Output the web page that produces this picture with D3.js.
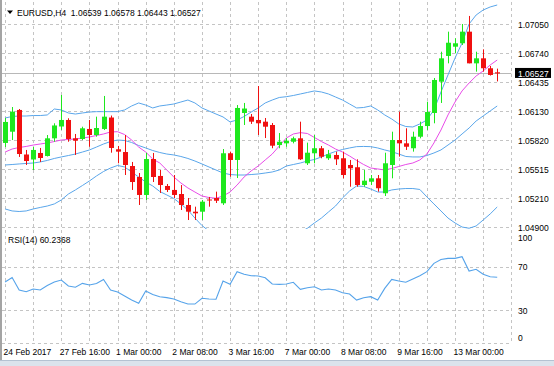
<!DOCTYPE html>
<html>
<head>
<meta charset="utf-8">
<script src="https://cdn.jsdelivr.net/npm/d3@7"></script>
<style>
body { margin: 0; background: #fff; }
text { font-family: "Liberation Sans", Arial, sans-serif; font-size: 8.5px; fill: #000; }
</style>
</head>
<body>
<svg id="chart" width="554" height="366"></svg>
<script>
// EURUSD H4, one value per bar, oldest first
const opens = [1.05792,1.05911,1.06141,1.05670,1.05617,1.05686,1.05654,1.05841,1.05966,1.06035,
  1.05841,1.05834,1.05940,1.05876,1.05940,1.06061,1.05725,1.05696,1.05548,1.05432,
  1.05242,1.05622,1.05443,1.05337,1.05295,1.05252,1.05136,1.05065,1.05065,1.05194,
  1.05210,1.05154,1.05683,1.05612,1.06109,1.06070,1.06035,1.06017,1.05982,1.05770,
  1.05788,1.05805,1.05841,1.05577,1.05683,1.05736,1.05630,1.05665,1.05630,1.05559,
  1.05535,1.05347,1.05382,1.05418,1.05260,1.05559,1.05823,1.05788,1.05736,1.05858,
  1.05971,1.06109,1.06440,1.06712,1.06810,1.06846,1.06969,1.06634,1.06687,1.06582,
  1.06539];
const highs = [1.06056,1.06172,1.06151,1.05718,1.05749,1.05739,1.05876,1.06000,1.06299,1.06053,
  1.05887,1.05964,1.06035,1.06070,1.06289,1.06082,1.05760,1.05876,1.05591,1.05474,
  1.05686,1.05686,1.05506,1.05358,1.05453,1.05347,1.05210,1.05118,1.05189,1.05221,
  1.05277,1.05728,1.05700,1.06193,1.06215,1.06098,1.06394,1.06056,1.06003,1.05897,
  1.05844,1.05858,1.06017,1.05795,1.05876,1.05760,1.05718,1.05700,1.05700,1.05612,
  1.05619,1.05506,1.05453,1.05453,1.05689,1.05911,1.06123,1.05947,1.05911,1.06017,
  1.06228,1.06479,1.06757,1.06969,1.06899,1.07050,1.07135,1.06757,1.06782,1.06606,
  1.06578];
const lows = [1.05749,1.05823,1.05644,1.05559,1.05506,1.05591,1.05649,1.05805,1.05929,1.05805,
  1.05665,1.05823,1.05752,1.05858,1.05929,1.05689,1.05577,1.05453,1.05295,1.05136,
  1.05189,1.05379,1.05263,1.05273,1.05210,1.05083,1.04977,1.04977,1.04977,1.05118,
  1.05157,1.05136,1.05435,1.05421,1.05982,1.05993,1.05876,1.05844,1.05736,1.05736,
  1.05752,1.05788,1.05612,1.05559,1.05577,1.05630,1.05612,1.05559,1.05418,1.05329,
  1.05329,1.05329,1.05347,1.05277,1.05231,1.05418,1.05647,1.05718,1.05700,1.05841,
  1.05929,1.06000,1.06215,1.06634,1.06740,1.06828,1.06634,1.06546,1.06546,1.06505,
  1.06443];
const closes = [1.06014,1.06123,1.05675,1.05601,1.05718,1.05633,1.05841,1.05977,1.06035,1.05834,
  1.05816,1.05947,1.05876,1.05950,1.06070,1.05739,1.05700,1.05559,1.05379,1.05242,
  1.05622,1.05432,1.05347,1.05295,1.05242,1.05136,1.05065,1.05048,1.05171,1.05184,
  1.05181,1.05683,1.05612,1.06162,1.06156,1.06017,1.06000,1.05964,1.05763,1.05805,
  1.05816,1.05841,1.05619,1.05689,1.05736,1.05647,1.05672,1.05619,1.05453,1.05524,
  1.05347,1.05393,1.05418,1.05313,1.05577,1.05823,1.05788,1.05752,1.05858,1.05971,
  1.06119,1.06458,1.06687,1.06852,1.06846,1.06969,1.06634,1.06687,1.06582,1.06511,
  1.06527];

const bbUpper = [1.06056,1.06072,1.06077,1.06077,1.06082,1.06082,1.06088,1.06151,1.06141,1.06109,
  1.06098,1.06109,1.06119,1.06123,1.06123,1.06123,1.06123,1.06141,1.06183,1.06215,
  1.06193,1.06162,1.06183,1.06193,1.06204,1.06225,1.06246,1.06215,1.06162,1.06130,
  1.06098,1.06067,1.06014,1.06035,1.06072,1.06119,1.06162,1.06215,1.06246,1.06273,
  1.06281,1.06294,1.06310,1.06326,1.06342,1.06331,1.06310,1.06278,1.06246,1.06204,
  1.06162,1.06167,1.06183,1.06141,1.06088,1.06045,1.05993,1.05966,1.05961,1.05993,
  1.06035,1.06141,1.06331,1.06511,1.06690,1.06849,1.07050,1.07145,1.07198,1.07230,
  1.07251];
const bbMiddle = [1.05559,1.05564,1.05570,1.05575,1.05580,1.05591,1.05607,1.05628,1.05644,1.05659,
  1.05675,1.05696,1.05718,1.05749,1.05781,1.05807,1.05823,1.05818,1.05797,1.05765,
  1.05739,1.05712,1.05691,1.05675,1.05665,1.05649,1.05628,1.05601,1.05570,1.05538,
  1.05506,1.05474,1.05458,1.05453,1.05453,1.05458,1.05464,1.05474,1.05485,1.05506,
  1.05548,1.05564,1.05580,1.05601,1.05617,1.05644,1.05675,1.05702,1.05723,1.05739,
  1.05753,1.05755,1.05753,1.05739,1.05718,1.05700,1.05675,1.05649,1.05644,1.05644,
  1.05659,1.05686,1.05718,1.05770,1.05823,1.05887,1.05950,1.06024,1.06077,1.06130,
  1.06183];
const bbLower = [1.05094,1.05073,1.05067,1.05073,1.05094,1.05110,1.05125,1.05147,1.05189,1.05252,
  1.05295,1.05342,1.05390,1.05443,1.05490,1.05527,1.05554,1.05538,1.05485,1.05432,
  1.05379,1.05337,1.05279,1.05242,1.05205,1.05147,1.05083,1.04998,1.04919,1.04861,
  1.04840,1.04829,1.04819,1.04808,1.04808,1.04787,1.04766,1.04745,1.04734,1.04734,
  1.04766,1.04808,1.04850,1.04890,1.04946,1.04998,1.05062,1.05125,1.05210,1.05284,
  1.05337,1.05332,1.05305,1.05273,1.05273,1.05295,1.05305,1.05310,1.05310,1.05300,
  1.05221,1.05147,1.05073,1.04998,1.04946,1.04903,1.04890,1.04914,1.04977,1.05041,
  1.05115];
const maValues = [1.05696,1.05728,1.05744,1.05755,1.05770,1.05781,1.05792,1.05807,1.05823,1.05829,
  1.05834,1.05844,1.05855,1.05871,1.05887,1.05908,1.05911,1.05881,1.05823,1.05749,
  1.05696,1.05622,1.05580,1.05506,1.05432,1.05369,1.05316,1.05273,1.05231,1.05215,
  1.05207,1.05231,1.05273,1.05347,1.05432,1.05496,1.05548,1.05612,1.05675,1.05760,
  1.05844,1.05887,1.05901,1.05892,1.05850,1.05807,1.05770,1.05728,1.05696,1.05654,
  1.05607,1.05564,1.05527,1.05517,1.05506,1.05522,1.05543,1.05564,1.05580,1.05612,
  1.05675,1.05792,1.05929,1.06088,1.06225,1.06342,1.06426,1.06500,1.06553,1.06616,
  1.06669];
const rsiValues = [55.8,60.0,48.5,46.9,49.4,48.5,52.6,55.8,57.7,52.2,
  51.0,54.6,53.1,54.5,58.2,48.5,46.6,42.9,39.2,36.2,
  47.5,44.3,42.3,41.4,40.2,37.7,35.5,35.5,40.8,40.2,
  39.9,56.8,53.7,65.4,63.0,61.7,61.4,59.8,54.0,53.7,
  54.0,55.6,49.1,50.6,51.5,48.5,49.4,48.5,46.0,44.8,
  39.2,41.4,42.3,39.2,50.0,58.3,56.8,55.6,58.6,61.7,
  65.4,73.1,76.6,77.7,77.7,79.2,66.0,67.6,63.0,60.7,
  60.2368];

const priceTicks = [1.07050, 1.06740, 1.06435, 1.06130, 1.05820, 1.05515, 1.05210, 1.04900];
const rsiTicks = [100, 70, 30, 0];
const rsiGrid = [70, 30, 0];
const timeLabels = ["24 Feb 2017", "27 Feb 16:00", "1 Mar 00:00", "2 Mar 08:00", "3 Mar 16:00",
  "7 Mar 00:00", "8 Mar 08:00", "9 Mar 16:00", "13 Mar 00:00"];
const lastPrice = 1.06527;

const svg = d3.select("#chart");
const n = closes.length;

const x = d3.scaleLinear().domain([0, n - 1]).range([5.1, 497.2]);
const y = d3.scaleLinear().domain([1.0490, 1.0705]).range([227.3, 24]);
const yRsi = d3.scaleLinear().domain([0, 100]).range([342.5, 234.2]);

const left = 2, right = x(72);

// window clips
const defs = svg.append("defs");
defs.append("clipPath").attr("id", "clipMain")
  .append("rect").attr("x", left).attr("y", 2).attr("width", right - left).attr("height", 227);
defs.append("clipPath").attr("id", "clipRsi")
  .append("rect").attr("x", left).attr("y", 234).attr("width", right - left).attr("height", 109);

const gridColor = "#c4c4c4";

// vertical grid, every 4 bars
const gridIdx = d3.range(0, 73, 4);
svg.append("g").selectAll("line").data(gridIdx).enter().append("line")
  .attr("x1", d => Math.round(x(d)) + 0.5).attr("x2", d => Math.round(x(d)) + 0.5)
  .attr("y1", 2).attr("y2", yRsi(0))
  .attr("stroke", gridColor).attr("stroke-dasharray", "3,3");

// horizontal grid
svg.append("g").selectAll("line").data(priceTicks).enter().append("line")
  .attr("x1", left).attr("x2", right)
  .attr("y1", d => Math.round(y(d)) + 0.5).attr("y2", d => Math.round(y(d)) + 0.5)
  .attr("stroke", gridColor).attr("stroke-dasharray", "3,3");
svg.append("g").selectAll("line").data(rsiGrid).enter().append("line")
  .attr("x1", left).attr("x2", right)
  .attr("y1", d => Math.round(yRsi(d)) + 0.5).attr("y2", d => Math.round(yRsi(d)) + 0.5)
  .attr("stroke", gridColor).attr("stroke-dasharray", "3,3");

// current price line
svg.append("line")
  .attr("x1", left).attr("x2", right)
  .attr("y1", Math.round(y(lastPrice)) + 0.5).attr("y2", Math.round(y(lastPrice)) + 0.5)
  .attr("stroke", "#b8b8b8");

const main = svg.append("g").attr("clip-path", "url(#clipMain)");

// bands and moving average
const line = vals => d3.line().x((d, i) => x(i)).y(d => y(d))(vals);
[bbUpper, bbMiddle, bbLower].forEach(band => {
  main.append("path").attr("d", line(band))
    .attr("fill", "none").attr("stroke", "#5aa6ea").attr("stroke-width", 1);
});
main.append("path").attr("d", line(maValues))
  .attr("fill", "none").attr("stroke", "#e84ce8").attr("stroke-width", 1);

// candles
const bars = d3.range(n).map(i => ({ i, o: opens[i], h: highs[i], l: lows[i], c: closes[i] }));
const candle = main.append("g").selectAll("g").data(bars).enter().append("g");
const colorOf = d => d.c >= d.o ? "#1ee81e" : "#f01010";
candle.append("line")
  .attr("x1", d => Math.round(x(d.i)) + 0.5).attr("x2", d => Math.round(x(d.i)) + 0.5)
  .attr("y1", d => y(d.h)).attr("y2", d => y(d.l))
  .attr("stroke", colorOf);
candle.append("rect")
  .attr("x", d => Math.round(x(d.i)) - 2).attr("width", 5)
  .attr("y", d => y(Math.max(d.o, d.c)))
  .attr("height", d => Math.max(1, Math.abs(y(d.o) - y(d.c))))
  .attr("fill", colorOf);

// RSI
svg.append("g").attr("clip-path", "url(#clipRsi)")
  .append("path")
  .attr("d", d3.line().x((d, i) => x(i)).y(d => yRsi(d))(rsiValues))
  .attr("fill", "none").attr("stroke", "#55a3ea").attr("stroke-width", 1.1);

// price scale labels
svg.append("g").selectAll("text").data(priceTicks).enter().append("text")
  .attr("x", 518).attr("y", d => y(d) + 4)
  .text(d => d.toFixed(5));

// current price tag
svg.append("rect").attr("x", 515).attr("y", y(lastPrice) - 5.5)
  .attr("width", 36).attr("height", 10).attr("fill", "#000");
svg.append("text").attr("x", 518).attr("y", y(lastPrice) + 3.5)
  .style("fill", "#fff").text(lastPrice.toFixed(5));

// RSI scale labels
const rsiLabelY = { 100: 241, 70: yRsi(70) + 3.5, 30: yRsi(30) + 3.5, 0: 341 };
svg.append("g").selectAll("text").data(rsiTicks).enter().append("text")
  .attr("x", 518).attr("y", d => rsiLabelY[d])
  .text(d => d);

// time labels, every 8 bars
svg.append("g").selectAll("text").data(timeLabels).enter().append("text")
  .attr("x", (d, k) => x(k * 8) - 1.5).attr("y", 355)
  .text(d => d);

// header
svg.append("path").attr("d", "M7,10.5 L13,10.5 L10,14 Z").attr("fill", "#000");
svg.append("text").attr("x", 17).attr("y", 15.5).attr("xml:space", "preserve")
  .text("EURUSD,H4  " + [opens[n - 1], highs[n - 1], lows[n - 1], closes[n - 1]].map(v => v.toFixed(5)).join(" "));
svg.append("text").attr("x", 8).attr("y", 243)
  .text("RSI(14) " + rsiValues[n - 1].toFixed(4));

// window frame bits
svg.append("rect").attr("x", 0).attr("y", 0).attr("width", 2).attr("height", 360).attr("fill", "#a4a4a4");
svg.append("rect").attr("x", 0).attr("y", 360).attr("width", 554).attr("height", 6).attr("fill", "#dbe3ec");
svg.append("line").attr("x1", 0).attr("x2", 554).attr("y1", 360.5).attr("y2", 360.5).attr("stroke", "#b4c2d2");
</script>
</body>
</html>
